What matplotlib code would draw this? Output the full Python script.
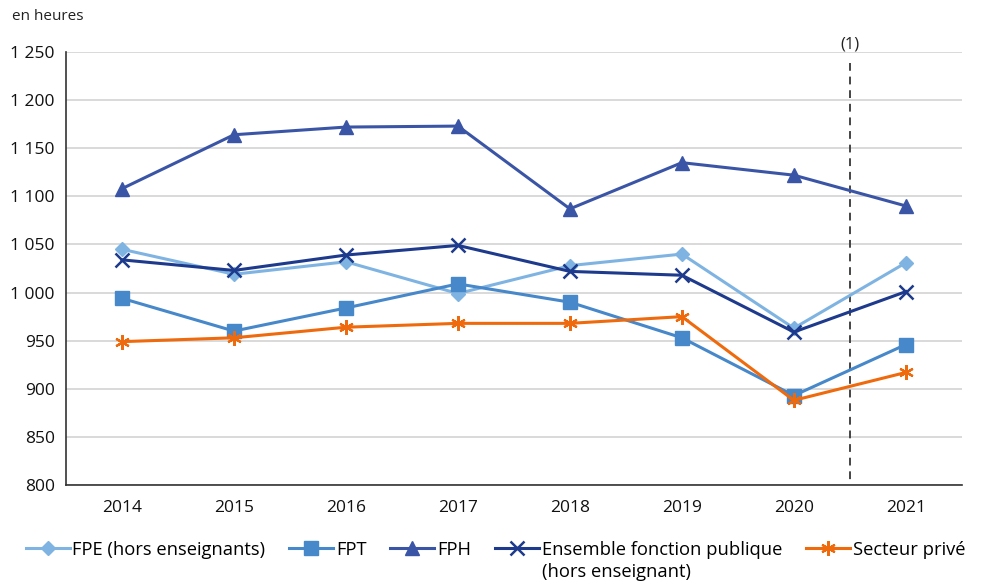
import numpy as np
import matplotlib.pyplot as plt

plt.rcParams['font.family'] = ['Open Sans', 'DejaVu Sans']

annees = ['2014', '2015', '2016', '2017', '2018', '2019', '2020', '2021']

fpe = [1045, 1019, 1032, 999, 1028, 1040, 963, 1031]
fpt = [994, 960, 984, 1009, 990, 953, 893, 946]
fph = [1108, 1164, 1172, 1173, 1087, 1135, 1122, 1090]
ensemble = [1034, 1023, 1039, 1049, 1022, 1018, 959, 1001]
prive = [949, 953, 964, 968, 968, 975, 888, 917]

y_ticks = [800, 850, 900, 950, 1000, 1050, 1100, 1150, 1200, 1250]
y_labels = ['800', '850', '900', '950', '1 000', '1 050', '1 100', '1 150', '1 200', '1 250']

x = np.arange(len(annees))

fig = plt.figure(figsize=(9.91, 5.81), dpi=100)
ax = fig.add_axes([0.0666, 0.1652, 0.904, 0.7453])

ax.plot(x, fpe, color='#7fb4e2', lw=2.2, marker='D', ms=7.5,
        label='FPE (hors enseignants)', zorder=3)
ax.plot(x, fpt, color='#4688c9', lw=2.2, marker='s', ms=9.5,
        label='FPT', zorder=3)
ax.plot(x, fph, color='#3b55a6', lw=2.2, marker='^', ms=10,
        label='FPH', zorder=3)
ax.plot(x, ensemble, color='#1d3a8c', lw=2.2, marker='x', ms=9.5, mew=1.8,
        label='Ensemble fonction publique', zorder=4)
ax.plot(x, prive, color='#ee6a0c', lw=2.2, marker=(6, 2, 0), ms=10.5, mew=1.6,
        label='Secteur privé', zorder=4)

# rupture de série entre 2020 et 2021, tracée du haut vers le bas
ax.plot([6.5, 6.5], [1239, 800], color='#444444', lw=1.4, ls=(0, (4, 3)), zorder=2)
ax.text(6.5, 1249, '(1)', ha='center', va='bottom', fontsize=12, color='#222222')

ax.set_xlim(-0.5, 7.5)
ax.set_ylim(800, 1250)
ax.set_xticks(x)
ax.set_xticklabels(annees)
ax.set_yticks(y_ticks)
ax.set_yticklabels(y_labels)
ax.tick_params(axis='both', length=0, labelsize=12.5, colors='#111111')
ax.tick_params(axis='x', pad=11)
ax.tick_params(axis='y', pad=8)

ax.grid(axis='y', color='#d0d0d0', lw=1.1)
ax.set_axisbelow(True)
for side in ['top', 'right']:
    ax.spines[side].set_visible(False)
for side in ['left', 'bottom']:
    ax.spines[side].set_color('#333333')
    ax.spines[side].set_linewidth(1.2)

fig.text(0.012, 0.965, 'en heures', fontsize=11, color='#222222')

leg = fig.legend(loc='lower center', bbox_to_anchor=(0.5, 0.01), ncol=5,
                 frameon=False, fontsize=13.2, handlelength=2.4,
                 columnspacing=1.3, handletextpad=0.15)

# seconde ligne du libellé "Ensemble", alignée sous la première
fig.canvas.draw()
bb = leg.get_texts()[3].get_window_extent()
fig.text(bb.x0 / fig.bbox.width, (bb.y0 - 4) / fig.bbox.height,
         '(hors enseignant)', fontsize=13.2, va='top', ha='left')

plt.savefig('out.png', dpi=100)
